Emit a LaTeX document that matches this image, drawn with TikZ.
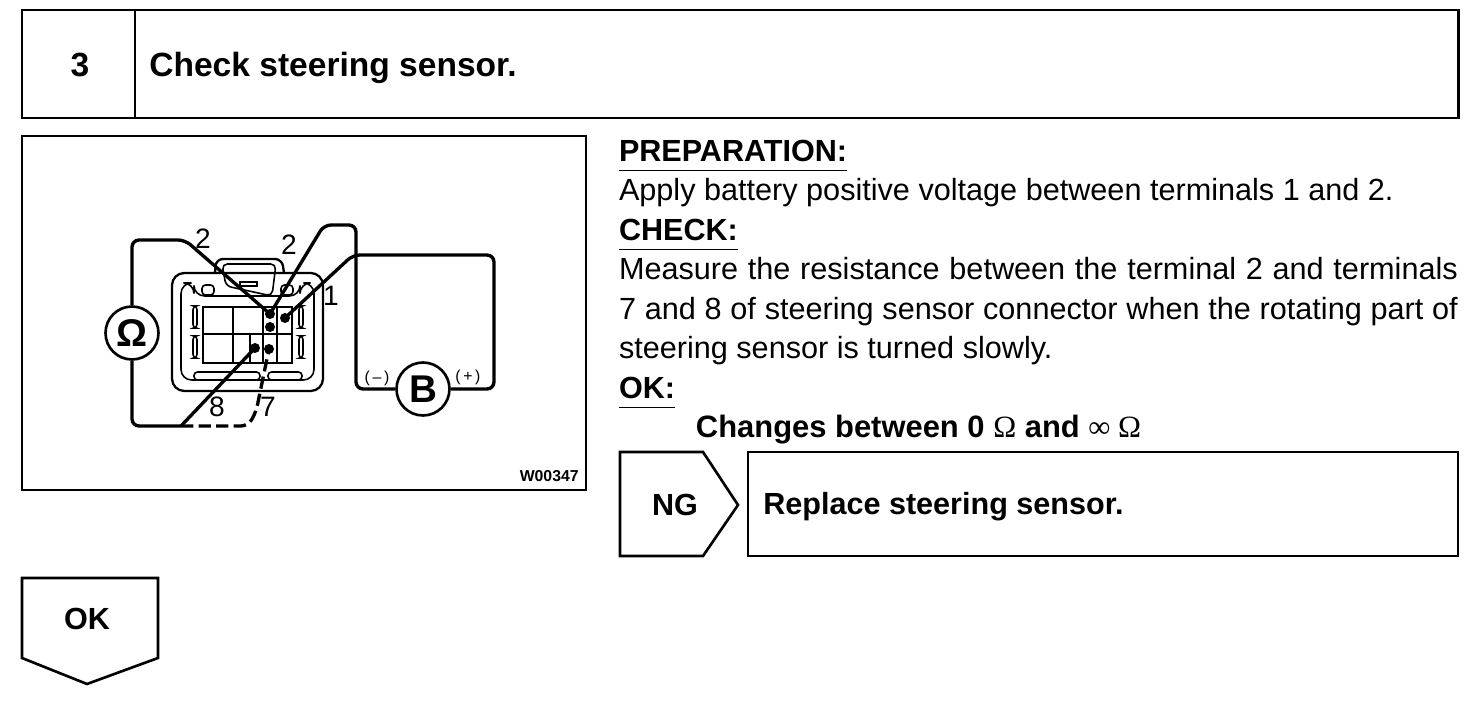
\documentclass[tikz,border=0pt]{standalone}
\usepackage{fontspec}
\setmainfont{Liberation Sans}
\newfontfamily\symfont{Liberation Serif}
\usetikzlibrary{positioning, shapes.geometric}

\begin{document}
\begin{tikzpicture}[x=0.02cm, y=-0.02cm]
    % Define styles
    \tikzset{
        box/.style={rectangle, draw, line width=1.6pt, inner sep=0pt, outer sep=0pt},
        heading/.style={font=\bfseries\fontsize{19.1}{19}\selectfont},
        label/.style={inner sep=0pt, font=\fontsize{16}{16}\selectfont},
        line/.style={inner sep=0pt, outer sep=0pt, anchor=north west, text height=0.61cm, text depth=0.18cm, font=\fontsize{17.43}{18}\selectfont},
        boldline/.style={line, font=\bfseries\fontsize{17.4}{18}\selectfont},
        meter/.style={circle, draw, line width=1.5pt, minimum size=1.06cm, inner sep=0pt},
        wire/.style={line width=1.9pt, rounded corners=4pt},
        part/.style={line width=0.9pt},
        cavity/.style={line width=1.2pt},
        dot/.style={circle, fill, inner sep=0pt, minimum size=0.2cm}
    }
    \useasboundingbox (0,0) rectangle (1472,702);

    % Header row
    \node (num) [box, minimum width=2.26cm, minimum height=2.16cm] at (78.5,64) {};
    \node (head) [box, minimum width=26.48cm, minimum height=2.16cm, right=0cm of num] {};
    \node at (80,65) [heading] {3};
    \node (title) [heading, inner sep=0pt, anchor=west] at (149,68) {Check steering sensor.};

    % Figure frame
    \node (frame) [box, minimum width=11.28cm, minimum height=7.08cm] at (304,313) {};
    \node (code) [inner sep=0pt, font=\bfseries\fontsize{9}{9}\selectfont, anchor=south east] at (579,482) {W00347};

    % Connector body
    \draw [part, line width=1.3pt, rounded corners=7pt] (172,273) rectangle (323,391);
    \draw [part, rounded corners=6pt] (181,283) -- (181,380) -- (314,380) -- (314,283) -- (300,283) -- (300,296) -- (194,296) -- (194,283) -- cycle;
    \draw [part, line width=1.3pt, rounded corners=4pt] (215,273) -- (216,259) -- (282,259) -- (284,273);
    \draw [part, rounded corners=3pt] (222,264) -- (226,286) -- (272,296) -- (276,264) -- cycle;
    \draw [part] (240,286) rectangle (257,282);
    \draw [part, rounded corners=2pt] (202,285) rectangle (214,295);
    \draw [part, rounded corners=2pt] (281,285) rectangle (293,295);
    \draw [part, rounded corners=2pt] (193,306) rectangle (197,328);
    \draw [part, rounded corners=2pt] (193,336) rectangle (197,358);
    \draw [part, rounded corners=2pt] (299,306) rectangle (303,328);
    \draw [part, rounded corners=2pt] (299,336) rectangle (303,358);
    \draw [part, rounded corners=2pt] (194,372) rectangle (260,380);
    \draw [part, rounded corners=2pt] (268,372) rectangle (302,380);

    % Connector cavities
    \draw [cavity] (203,307) rectangle (292,363);
    \draw [cavity] (203,334) -- (292,334);
    \draw [cavity] (233,307) -- (233,363);
    \draw [cavity] (250,334) -- (250,363);
    \draw [cavity, line width=1.7pt] (263,307) -- (263,363);
    \draw [cavity, line width=1.7pt] (277,307) -- (277,363);

    % Terminals
    \node (t2a) [dot] at (270,314) {};
    \node (t2b) [dot] at (270,327) {};
    \node (t1) [dot] at (285,318) {};
    \node (t8) [dot] at (255,348) {};
    \node (t7) [dot] at (269,349) {};

    % Meters
    \node (ohm) [meter] at (132,333) {\bfseries\fontsize{22}{22}\selectfont Ω};
    \node (batt) [meter] at (423,389) {\bfseries\fontsize{22}{22}\selectfont B};
    \coordinate (split) at (181,426);

    % Wires
    \draw [wire] (ohm.north) -- (132,240) -- (185,240) -- (t2a.center);
    \draw [wire] (ohm.south) -- (132,426) -- (split);
    \draw [line width=1.9pt] (split) -- (t8.center);
    \draw [line width=1.9pt, dashed, dash pattern=on 7pt off 3pt, rounded corners=4pt] (split) -- (248,426) -- (256,412) -- (t7.center);
    \draw [wire] (t2a.center) -- (324,225) -- (356,225) -- (356,389) -- (batt.west);
    \draw [wire] (t1.center) -- (353,255) -- (494,255) -- (494,389) -- (batt.east);

    % Terminal numbers and polarity marks
    \node (n2a) [label] at (203,239) {2};
    \node (n2b) [label] at (289,245) {2};
    \node (n1) [label] at (331,296) {1};
    \node (n8) [label] at (217,407) {8};
    \node (n7) [label] at (268,407) {7};
    \node (minus) [inner sep=0pt, font=\fontsize{9}{9}\selectfont] at (377,378) {(\,--\,)};
    \node (plus) [inner sep=0pt, font=\fontsize{9}{9}\selectfont] at (468,377) {(\,+\,)};

    % Text on the right
    \node (prep) [boldline] at (619,131) {PREPARATION:};
    \node (apply) [line, below=0cm of prep.south west, anchor=north west] {Apply battery positive voltage between terminals 1 and 2.};
    \node (check) [boldline, below=0cm of apply.south west, anchor=north west] {CHECK:};
    \node (meas) [line, below=0cm of check.south west, anchor=north west] {\makebox[16.78cm][s]{Measure the resistance between the terminal 2 and terminals}};
    \node (seven) [line, below=0cm of meas.south west, anchor=north west] {\makebox[16.78cm][s]{7 and 8 of steering sensor connector when the rotating part of}};
    \node (turn) [line, below=0cm of seven.south west, anchor=north west] {steering sensor is turned slowly.};
    \node (ok) [boldline, below=0cm of turn.south west, anchor=north west] {OK:};
    \node (chg) [boldline, below=0cm of ok.south west, anchor=north west, xshift=1.54cm, font=\bfseries\fontsize{17.6}{18}\selectfont] {Changes between 0 {\symfont\mdseries Ω} and {\symfont\mdseries ∞ Ω}};

    % Underlines
    \draw [line width=1pt] (prep.south west) -- (prep.south east);
    \draw [line width=1pt] (check.south west) -- (check.south east);
    \draw [line width=1pt] (ok.south west) -- (ok.south east);

    % NG branch
    \draw [line width=1.5pt] (620,452) -- (703,452) -- (738,505) -- (703,556) -- (620,556) -- cycle;
    \node (ng) [inner sep=0pt, font=\bfseries\fontsize{17.4}{18}\selectfont] at (675,505) {NG};
    \node (repl) [box, line width=1.5pt, minimum width=14.2cm, minimum height=2.08cm] at (1103,504) {};
    \node (repltxt) [inner sep=0pt, anchor=west, font=\bfseries\fontsize{17.4}{18}\selectfont] at (763,507) {Replace steering sensor.};

    % OK branch
    \draw [line width=1.5pt] (22,578) -- (158,578) -- (158,658) -- (87,684) -- (22,658) -- cycle;
    \node (okflag) [inner sep=0pt, font=\bfseries\fontsize{17.4}{18}\selectfont] at (87,619) {OK};

\end{tikzpicture}
\end{document}
